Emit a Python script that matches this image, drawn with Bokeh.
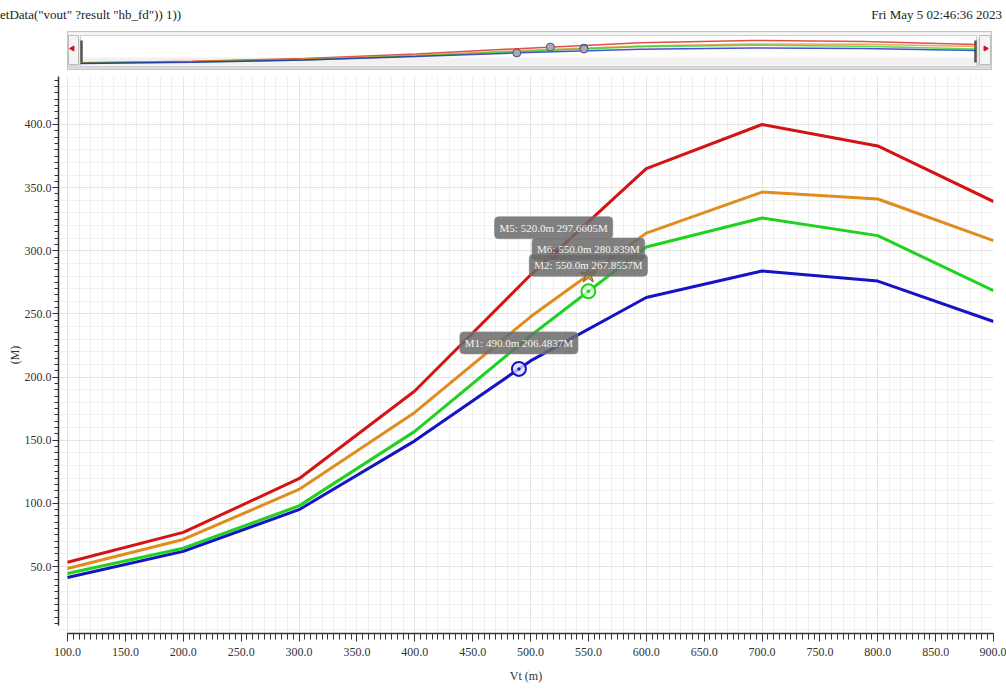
import math
from bokeh.plotting import figure
from bokeh.layouts import column
from bokeh.models import Range1d, FixedTicker, PrintfTickFormatter, Label, Div
from bokeh.embed import file_html
from bokeh.resources import INLINE

# ---------------- data ----------------
vt = [100, 200, 300, 400, 500, 600, 700, 800, 900]
red = [53.4, 77.0, 119.5, 189.0, 280.8, 365.0, 400.0, 383.0, 339.0]
orange = [48.4, 71.4, 111.0, 172.0, 247.7, 314.0, 346.5, 341.0, 308.0]
green = [44.5, 64.5, 98.0, 157.0, 232.7, 303.0, 326.0, 312.0, 268.5]
blue = [41.3, 62.0, 95.0, 149.5, 212.8, 263.0, 284.0, 276.0, 244.0]

series_vals = [red, orange, green, blue]
series_colors = ["#d41414", "#e08c1e", "#1ed21e", "#1414c4"]

mk_names = ["M1", "M5", "M6", "M2"]
mk_x = [490.0, 520.0, 550.0, 550.0]
mk_y = [206.4837, 297.6605, 280.839, 267.8557]
mk_text = ["M1: 490.0m 206.4837M", "M5: 520.0m 297.6605M",
           "M6: 550.0m 280.839M", "M2: 550.0m 267.8557M"]
mk_series = [3, 0, 1, 2]

x_ticks = list(range(100, 901, 50))
y_ticks = list(range(50, 401, 50))

header_left = 'etData("vout" ?result "hb_fd")) 1))'
header_right = "Fri May 5 02:46:36 2023"
x_label = "Vt (m)"
y_label = "(M)"

FONT = "Liberation Serif"
W = 1006

# ---------------- header line ----------------
hdr = Div(text=(
    '<div style="display:flex;justify-content:space-between;width:1002px;'
    'font-family:\'Liberation Serif\';font-size:13px;color:#222;line-height:16px;padding-top:7px;">'
    '<span>%s</span><span>%s</span></div>'
) % (header_left.replace('"', '&quot;'), header_right), width=W, height=28, margin=0)

# ---------------- overview scrollbar strip ----------------
# data coordinates of this strip are page pixels
t = figure(width=W, height=48, x_range=Range1d(58, 993), y_range=Range1d(76, 28),
           output_backend="svg", toolbar_location=None,
           min_border_left=58, min_border_right=13, min_border_top=0, min_border_bottom=0,
           x_axis_type=None, y_axis_type=None)
t.outline_line_color = None
t.extra_x_ranges = {"mini": Range1d(80.33, 916.09)}
t.extra_y_ranges = {"mini": Range1d(-160, 586.6)}

t.quad(left=67, right=991, top=31, bottom=69, fill_color="#e6e6e6", line_color="#c4c4c4")
t.quad(left=68, right=990, top=32, bottom=38, fill_color="#f6f6f6", line_color=None)
t.quad(left=68, right=990, top=62, bottom=68, fill_color="#d8d8d8", line_color=None)
t.quad(left=80, right=976, top=35, bottom=66, fill_color="#ffffff", line_color="#cfcfcf")
t.quad(left=81, right=975, top=57, bottom=65, fill_color="#f1f1f1", line_color=None)
t.quad(left=68, right=78, top=35, bottom=64, fill_color="#f4f4f4", line_color="#bdbdbd")
t.quad(left=979, right=990, top=35, bottom=64, fill_color="#f4f4f4", line_color="#bdbdbd")
t.scatter(x=[72], y=[48], marker="triangle", angle=math.pi / 2, size=5,
          fill_color="#d01020", line_color="#d01020")
t.scatter(x=[985], y=[48], marker="triangle", angle=-math.pi / 2, size=5,
          fill_color="#d01020", line_color="#d01020")
t.segment(x0=[81, 975], y0=[40, 40], x1=[81, 975], y1=[62, 62], line_color="#555555", line_width=2.5)

for vals, col in zip(series_vals, series_colors):
    t.line(vt, vals, x_range_name="mini", y_range_name="mini", line_color=col,
           line_width=1.5, line_alpha=0.75)
t.scatter(mk_x, mk_y, x_range_name="mini", y_range_name="mini", size=8,
          fill_color="#a8a8b8", line_color="#555566", line_width=1)

# ---------------- main plot ----------------
p = figure(width=W, height=611, x_range=Range1d(92.22, 900), y_range=Range1d(-3.05, 438.0),
           output_backend="svg", toolbar_location=None,
           min_border_left=58, min_border_right=13, min_border_top=0, min_border_bottom=54)
p.outline_line_color = None
p.background_fill_color = "#ffffff"

p.xgrid.ticker = FixedTicker(ticks=list(range(100, 901, 100)), minor_ticks=list(range(100, 901, 10)))
p.ygrid.ticker = FixedTicker(ticks=y_ticks, minor_ticks=list(range(0, 431, 10)))
p.xgrid.grid_line_color = "#e4e4e4"
p.ygrid.grid_line_color = "#e4e4e4"
p.xgrid.minor_grid_line_color = "#f0f0f0"
p.ygrid.minor_grid_line_color = "#f0f0f0"

p.xaxis.ticker = FixedTicker(ticks=x_ticks, minor_ticks=list(range(100, 901, 5)))
p.yaxis.ticker = FixedTicker(ticks=y_ticks, minor_ticks=list(range(5, 436, 5)))
p.xaxis.bounds = (100, 900)
p.yaxis.bounds = (3.3, 438)
for ax in (p.xaxis, p.yaxis):
    ax.formatter = PrintfTickFormatter(format="%.1f")
    ax.axis_line_color = "#333333"
    ax.axis_line_width = 1.5
    ax.major_tick_line_color = "#333333"
    ax.minor_tick_line_color = "#333333"
    ax.major_tick_in = 0
    ax.minor_tick_in = 0
    ax.major_label_text_font = FONT
    ax.major_label_text_font_size = "12px"
    ax.major_label_text_color = "#333333"
    ax.axis_label_text_font = FONT
    ax.axis_label_text_font_size = "12px"
    ax.axis_label_text_font_style = "normal"
    ax.axis_label_text_color = "#333333"
p.xaxis.major_tick_out = 8
p.xaxis.minor_tick_out = 6
p.yaxis.major_tick_out = 6
p.yaxis.minor_tick_out = 4
p.xaxis.major_label_standoff = 6
p.yaxis.major_label_standoff = 1
p.xaxis.axis_label_standoff = 10
p.yaxis.axis_label_standoff = 0
p.xaxis.axis_label = x_label
p.yaxis.axis_label = y_label

for vals, col in zip(series_vals, series_colors):
    p.line(vt, vals, line_color=col, line_width=3)

mcol = [series_colors[i] for i in mk_series]
p.scatter([mk_x[0]], [mk_y[0]], marker="circle_dot", size=14, fill_color="#dde0ff",
          fill_alpha=0.8, line_color=mcol[0], line_width=2)
p.scatter([mk_x[1]], [mk_y[1]], marker="circle", size=11, fill_color="#8c0c0c",
          line_color="#8c0c0c")
p.scatter([mk_x[2]], [mk_y[2]], marker="star", size=17, fill_color="#e09a30",
          line_color="#8a5a10", line_width=1)
p.scatter([mk_x[3]], [mk_y[3]], marker="circle_dot", size=14, fill_color="#ddffdd",
          fill_alpha=0.8, line_color=mcol[3], line_width=2)

for x, y, txt in zip(mk_x, mk_y, mk_text):
    p.add_layout(Label(x=x, y=y, text=txt, text_align="center", text_baseline="bottom",
                       y_offset=15, text_font=FONT, text_font_size="11px",
                       text_color="#f4f4f4", background_fill_color="#6a6a6a",
                       background_fill_alpha=0.85, border_line_color="#888888",
                       border_line_alpha=0.6, padding=5, border_radius=4))

layout = column(hdr, t, p, spacing=0)
open("out.html", "w").write(file_html(layout, INLINE))
